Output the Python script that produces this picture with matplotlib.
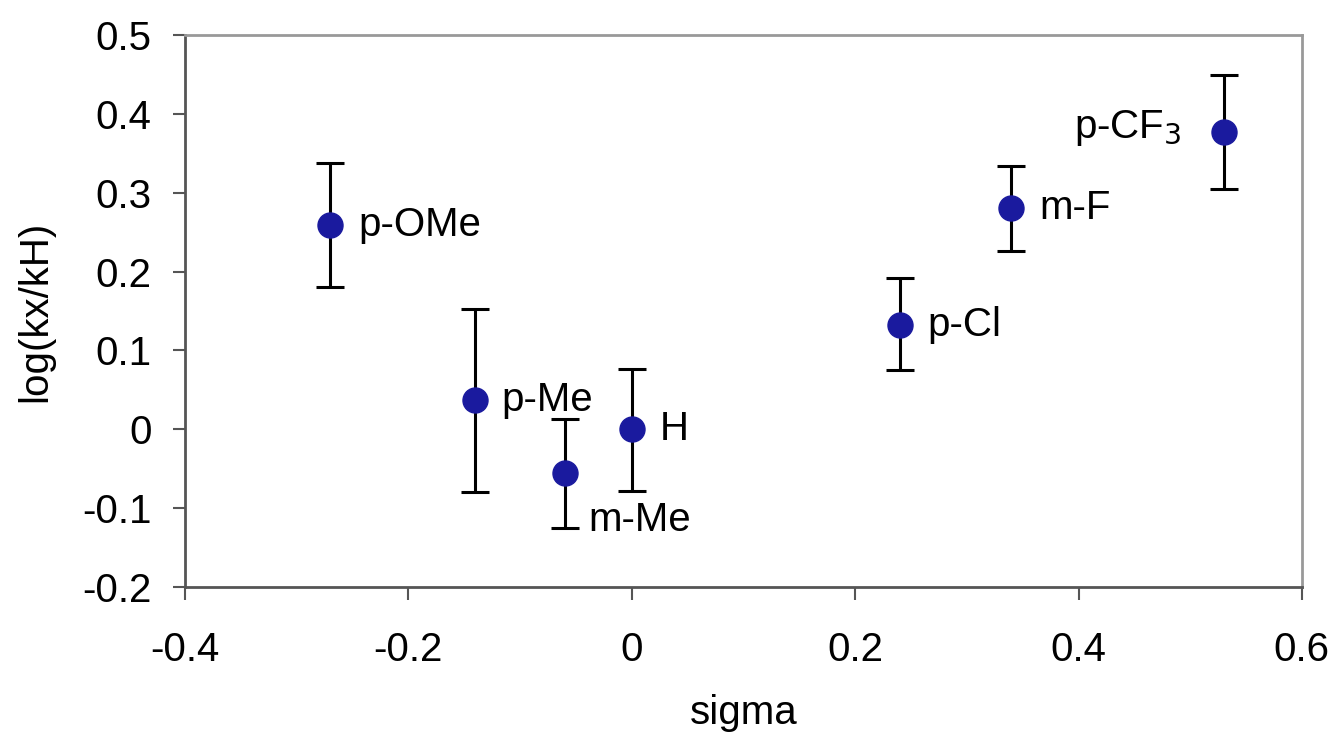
import matplotlib.pyplot as plt

plt.rcParams['font.family'] = ['Liberation Sans', 'DejaVu Sans']

# substituent data
names = ['p-OMe', 'p-Me', 'm-Me', 'H', 'p-Cl', 'm-F', 'p-CF$_3$']
sigma = [-0.27, -0.14, -0.06, 0.0, 0.24, 0.34, 0.53]
logk = [0.259, 0.037, -0.055, 0.0, 0.132, 0.281, 0.377]
err_up = [0.079, 0.115, 0.068, 0.077, 0.060, 0.053, 0.072]
err_dn = [0.078, 0.116, 0.070, 0.078, 0.057, 0.055, 0.072]

fig = plt.figure(figsize=(13.38, 7.39), dpi=100)
ax = fig.add_axes([0.1383, 0.2057, 0.8347, 0.7469])

ax.errorbar(sigma, logk, yerr=[err_dn, err_up], fmt='o', color='#1a1a9e',
            markersize=18, ecolor='black', elinewidth=2.2, capsize=10,
            capthick=2.2, zorder=3)

# label offsets in points
offsets = [(20, 0), (19, 0), (17, -34), (20, 0), (20, 0), (20, 0), (-30, 3)]
for n, x, y, off in zip(names, sigma, logk, offsets):
    ha = 'right' if off[0] < 0 else 'left'
    ax.annotate(n, (x, y), xytext=off, textcoords='offset points',
                ha=ha, va='center', fontsize=29)

ax.set_xlim(-0.4, 0.6)
ax.set_ylim(-0.2, 0.5)
ax.set_xticks([-0.4, -0.2, 0, 0.2, 0.4, 0.6])
ax.set_xticklabels(['-0.4', '-0.2', '0', '0.2', '0.4', '0.6'])
ax.set_yticks([-0.2, -0.1, 0, 0.1, 0.2, 0.3, 0.4, 0.5])
ax.set_yticklabels(['-0.2', '-0.1', '0', '0.1', '0.2', '0.3', '0.4', '0.5'])
ax.tick_params(labelsize=29, length=9, width=1.5, color='#555555')
ax.tick_params(axis='x', pad=23)
ax.tick_params(axis='y', pad=15)

ax.spines['left'].set_color('#555555')
ax.spines['bottom'].set_color('#555555')
ax.spines['top'].set_color('#999999')
ax.spines['right'].set_color('#999999')
for s in ax.spines.values():
    s.set_linewidth(2)

ax.set_xlabel('sigma', fontsize=29, labelpad=18)
ax.set_ylabel('log(kx/kH)', fontsize=29, labelpad=20)

fig.savefig('out.png', dpi=100)
